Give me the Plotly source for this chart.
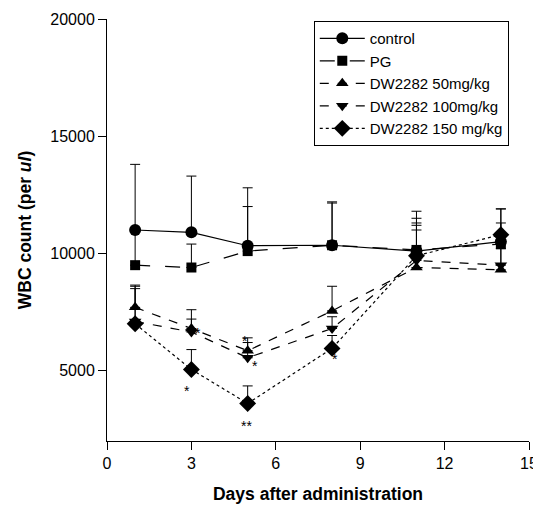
import plotly.graph_objects as go

days = [1, 3, 5, 8, 11, 14]

control = [11000, 10900, 10330, 10350, 10100, 10500]
control_top = [13800, 13300, 12800, 12200, 11800, 11900]

pg = [9500, 9400, 10100, 10350, 10150, 10400]
pg_top = [11000, 10400, 12000, 12150, 11500, 11300]

dw50 = [7700, 6800, 5850, 7550, 9400, 9300]
dw50_top = [8650, 7600, 6400, 8600, 11300, 10500]

dw100 = [7100, 6650, 5550, 6800, 9700, 9500]
dw100_top = [8600, 7200, 6200, 7300, 11000, 10200]

dw150 = [7000, 5050, 3600, 5950, 9900, 10800]
dw150_top = [8500, 5900, 4350, 6500, 11200, 11900]

y_ticks = [5000, 10000, 15000, 20000]
x_ticks = [0, 3, 6, 9, 12, 15]

names = ["control", "PG", "DW2282 50mg/kg", "DW2282 100mg/kg", "DW2282 150 mg/kg"]
symbols = ["circle", "square", "triangle-up", "triangle-down", "diamond"]
dashes = ["solid", "longdash", "dash", "dash", "dot"]
sizes = [12, 10, 11, 11, 13]
series = [(control, control_top), (pg, pg_top), (dw50, dw50_top),
          (dw100, dw100_top), (dw150, dw150_top)]

# significance markers: (x, y, text)
stars = [(2.85, 4150, "*"), (3.25, 6600, "*"), (4.9, 6250, "*"),
         (5.25, 5200, "*"), (4.95, 2650, "**"), (8.1, 5500, "*")]

FONT = "Liberation Sans, Arial, sans-serif"

fig = go.Figure()
for i, (vals, tops) in enumerate(series):
    err = [t - v for t, v in zip(tops, vals)]
    fig.add_trace(go.Scatter(
        x=days, y=vals, name=names[i], mode="lines+markers",
        line=dict(color="black", width=1.2, dash=dashes[i]),
        marker=dict(symbol=symbols[i], size=sizes[i], color="black"),
        error_y=dict(type="data", symmetric=False, array=err,
                     arrayminus=[0] * len(err), color="black",
                     thickness=1, width=5),
    ))

for sx, sy, st in stars:
    fig.add_annotation(x=sx, y=sy, text=st, showarrow=False,
                       font=dict(size=14, color="black", family=FONT))

# page body has an 8px margin; compensate so plot area lands at x 107..529, y 19..441
fig.update_layout(
    width=533, height=497,
    margin=dict(l=99, r=12, t=11, b=64, autoexpand=False),
    paper_bgcolor="white", plot_bgcolor="white",
    font=dict(family=FONT, color="black", size=16),
    showlegend=True,
    legend=dict(x=0.49, y=0.995, xanchor="left", yanchor="top",
                bordercolor="black", borderwidth=1, bgcolor="white",
                font=dict(size=15), tracegroupgap=0, itemsizing="trace",
                itemwidth=45),
    xaxis=dict(range=[0, 15], tickvals=x_ticks,
               ticktext=[str(v) for v in x_ticks],
               showgrid=False, zeroline=False, showline=True,
               linecolor="black", linewidth=1, ticks="outside",
               ticklen=8, tickcolor="black", automargin=False,
               tickfont=dict(size=16),
               title=dict(text="<b>Days after administration</b>",
                          font=dict(size=17.5), standoff=16)),
    yaxis=dict(range=[2000, 20000], tickvals=y_ticks,
               ticktext=[str(v) for v in y_ticks],
               showgrid=False, zeroline=False, showline=True,
               linecolor="black", linewidth=1, ticks="outside",
               ticklen=8, tickcolor="black", automargin=False,
               tickfont=dict(size=16),
               title=dict(text="<b>WBC count (per <i>ul</i>)</b>",
                          font=dict(size=17.5), standoff=14)),
)

fig.write_html("out.html")
